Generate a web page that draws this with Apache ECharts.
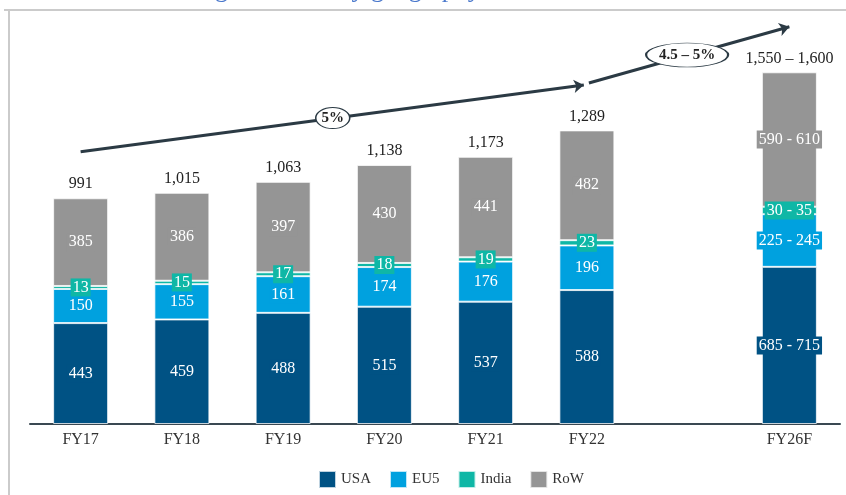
<!DOCTYPE html>
<html>
<head>
<meta charset="utf-8">
<script src="https://cdn.jsdelivr.net/npm/echarts@6/dist/echarts.min.js"></script>
<style>
  html, body { margin: 0; padding: 0; background: #fff; }
  #chart { width: 846px; height: 495px; }
</style>
</head>
<body>
<div id="chart"></div>
<script>
// data
const categories = ['FY17', 'FY18', 'FY19', 'FY20', 'FY21', 'FY22', '', 'FY26F']
const usa   = [443, 459, 488, 515, 537, 588, '-', 690]
const eu5   = [150, 155, 161, 174, 176, 196, '-', 231]
const india = [13, 15, 17, 18, 19, 23, '-', 33]
const row   = [385, 386, 397, 430, 441, 482, '-', 590]
// FY26F is a forecast shown as ranges
const usaLabels   = ['443', '459', '488', '515', '537', '588', '', '685 - 715']
const eu5Labels   = ['150', '155', '161', '174', '176', '196', '', '225 - 245']
const indiaLabels = ['13', '15', '17', '18', '19', '23', '', '30 - 35']
const rowLabels   = ['385', '386', '397', '430', '441', '482', '', '590 - 610']
const totalLabels = ['991', '1,015', '1,063', '1,138', '1,173', '1,289', '', '1,550 – 1,600']

// growth arrows (x in category index units, y in value units)
const growthArrows = [
  [[0, 1195], [4.97, 1488]],
  [[5.02, 1497], [7, 1744]]
]
const growthBadges = [
  { pos: [2.49, 1343], text: '5%', size: [34, 21] },
  { pos: [5.99, 1620], text: '4.5 – 5%', size: [82, 24] }
]

const COLORS = {
  usa: '#005284',
  eu5: '#00a1df',
  india: '#0fb7a6',
  row: '#959595',
  arrow: '#2b3a44'
}
const FONT = 'Liberation Serif'

const chart = echarts.init(document.getElementById('chart'))

const segment = (name, values, labels, color) => ({
  name,
  type: 'bar',
  stack: 'total',
  barWidth: 55,
  data: values,
  itemStyle: { color, borderColor: 'rgba(255,255,255,0.75)', borderWidth: 1 },
  label: {
    show: true,
    position: 'inside',
    color: '#fff',
    fontFamily: FONT,
    fontSize: 16,
    backgroundColor: color,
    padding: [2, 2, 0, 2],
    formatter: p => labels[p.dataIndex]
  },
  emphasis: { disabled: true }
})

const option = {
  animation: false,
  title: {
    text: 'Revenue segmentation by geography',
    left: 91,
    top: -28,
    textStyle: { fontFamily: FONT, fontSize: 26, fontWeight: 'normal', color: '#4a78cc' }
  },
  graphic: [
    { type: 'line', shape: { x1: 4, y1: 10, x2: 846, y2: 10 }, style: { stroke: '#cbcbcb', lineWidth: 2 } },
    { type: 'line', shape: { x1: 9, y1: 10, x2: 9, y2: 495 }, style: { stroke: '#cbcbcb', lineWidth: 2 } }
  ],
  legend: {
    data: ['USA', 'EU5', 'India', 'RoW'],
    left: 313,
    top: 465,
    itemWidth: 17,
    itemHeight: 17,
    itemGap: 18,
    icon: 'rect',
    textStyle: { fontFamily: FONT, fontSize: 15, color: '#333' }
  },
  grid: { left: 30, right: 6, top: 14, bottom: 71 },
  xAxis: [
    {
      type: 'category',
      data: categories,
      axisLine: { lineStyle: { color: '#3a4852', width: 2 } },
      axisTick: { show: false },
      axisLabel: { fontFamily: FONT, fontSize: 16, color: '#333', margin: 8 }
    },
    { type: 'value', min: -0.5, max: 7.5, show: false }
  ],
  yAxis: { type: 'value', min: 0, max: 1800, show: false, splitLine: { show: false } },
  series: [
    segment('USA', usa, usaLabels, COLORS.usa),
    segment('EU5', eu5, eu5Labels, COLORS.eu5),
    segment('India', india, indiaLabels, COLORS.india),
    segment('RoW', row, rowLabels, COLORS.row),
    {
      name: 'Total',
      type: 'bar',
      stack: 'total',
      barWidth: 55,
      data: categories.map(c => (c ? 0 : '-')),
      itemStyle: { color: 'transparent' },
      label: {
        show: true,
        position: 'top',
        distance: 6,
        color: '#222',
        fontFamily: FONT,
        fontSize: 16,
        formatter: p => totalLabels[p.dataIndex]
      },
      emphasis: { disabled: true }
    },
    {
      name: 'Growth',
      type: 'lines',
      coordinateSystem: 'cartesian2d',
      xAxisIndex: 1,
      yAxisIndex: 0,
      symbol: ['none', 'arrow'],
      symbolSize: 10,
      lineStyle: { color: COLORS.arrow, width: 3, opacity: 1 },
      data: growthArrows.map(coords => ({ coords })),
      z: 5
    },
    {
      name: 'CAGR',
      type: 'scatter',
      xAxisIndex: 1,
      yAxisIndex: 0,
      symbol: 'circle',
      data: growthBadges.map(b => ({ value: b.pos, symbolSize: b.size, name: b.text })),
      itemStyle: { color: '#fff', borderColor: COLORS.arrow, borderWidth: 1.2, opacity: 1 },
      label: {
        show: true,
        position: 'inside',
        color: '#222',
        fontFamily: FONT,
        fontWeight: 'bold',
        fontSize: 15,
        formatter: p => p.name
      },
      emphasis: { disabled: true },
      z: 6
    }
  ]
}

chart.setOption(option)
</script>
</body>
</html>
